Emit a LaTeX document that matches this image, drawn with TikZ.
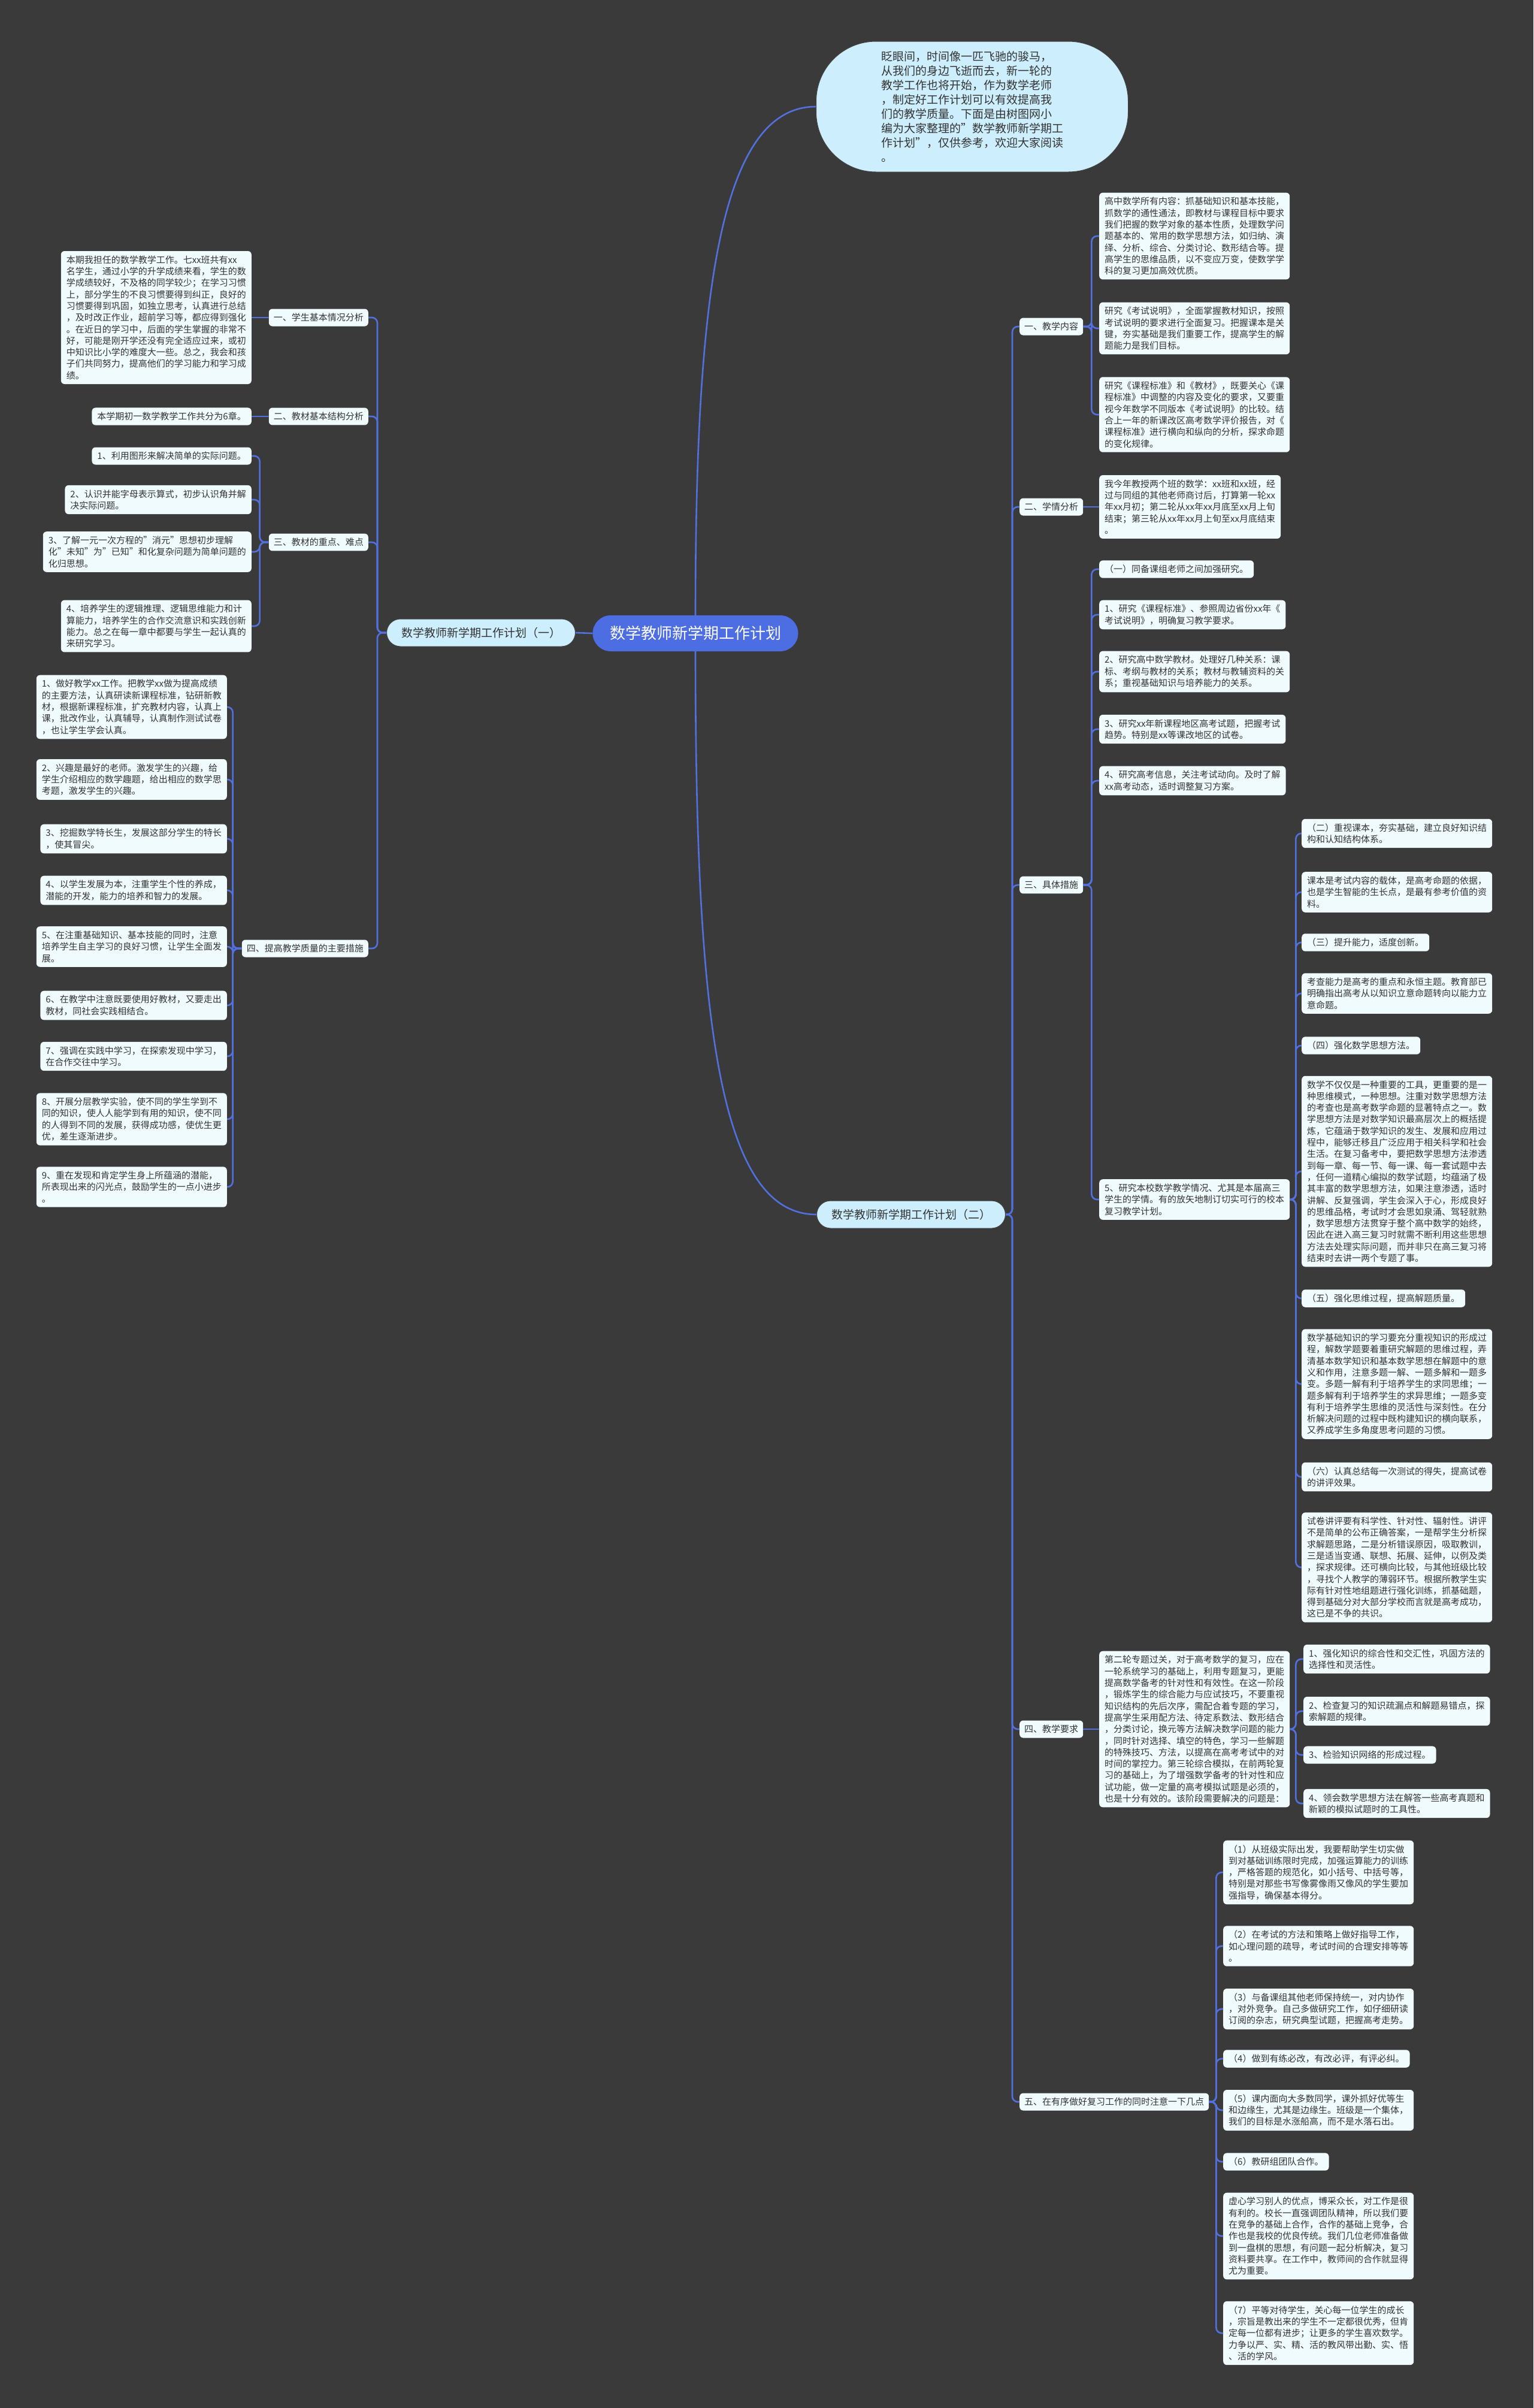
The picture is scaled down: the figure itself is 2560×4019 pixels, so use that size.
\documentclass[tikz,border=0pt]{standalone}
\usepackage{fontspec}
\setmainfont{Noto Sans CJK SC}
\usepackage{tikz}
\definecolor{bgdark}{RGB}{58,58,58}
\definecolor{linkblue}{RGB}{82,112,222}
\definecolor{rootblue}{RGB}{76,110,226}
\definecolor{planfill}{RGB}{205,238,252}
\definecolor{leaffill}{RGB}{240,251,254}
\definecolor{inktext}{RGB}{51,51,51}

\begin{document}
\begin{tikzpicture}[x=1pt, y=-1pt,
    leaf/.style={rectangle, rounded corners=6pt, fill=leaffill, text=inktext,
                 align=left, inner xsep=9pt, inner ysep=7.5pt,
                 font=\fontsize{15}{19.3}\selectfont},
    branch/.style={leaf, inner xsep=8pt},
    planbox/.style={rectangle, rounded corners=23pt, draw=black!75, line width=1pt,
                    fill=planfill, text=inktext, minimum width=315pt, minimum height=46pt,
                    font=\fontsize{19}{23}\selectfont},
    rootbox/.style={rectangle, rounded corners=30pt, fill=rootblue, text=white,
                    minimum width=343pt, minimum height=60pt,
                    font=\fontsize{26}{30}\selectfont},
    intro/.style={rectangle, rounded corners=100pt, draw=black!75, line width=1pt,
                  fill=planfill, text=inktext, align=left,
                  minimum width=521pt, minimum height=218pt,
                  font=\fontsize{19}{24}\selectfont},
    link/.style={draw=linkblue, line width=2.6pt, rounded corners=9pt}]

\useasboundingbox (0,0) rectangle (2560,4019);
\fill[bgdark] (0,0) rectangle (2560,4019);

%% ── Root and the two plans ──────────────────────────────────────────────────
\node[rootbox] (root) at (1161,1057) {数学教师新学期工作计划};

\node[intro] (preface) at (1623,178)
    {眨眼间，时间像一匹飞驰的骏马，\\从我们的身边飞逝而去，新一轮的\\教学工作也将开始，作为数学老师\\，制定好工作计划可以有效提高我\\们的教学质量。下面是由树图网小\\编为大家整理的"数学教师新学期工\\作计划"，仅供参考，欢迎大家阅读\\。};

\node[planbox] (plan1) at (803,1056) {数学教师新学期工作计划（一）};
\node[planbox] (plan2) at (1521,2027) {数学教师新学期工作计划（二）};

%% ── Plan one: branches on the left ──────────────────────────────────────────
\node[branch, anchor=east] (basics) at (615,530) {一、学生基本情况分析};
\node[branch, anchor=east] (structure) at (615,695) {二、教材基本结构分析};
\node[branch, anchor=east] (keypts) at (615,905) {三、教材的重点、难点};
\node[branch, anchor=east] (quality) at (615,1583) {四、提高教学质量的主要措施};

\node[leaf, anchor=east] (basics1) at (420,530)
    {本期我担任的数学教学工作。七xx班共有xx\\名学生，通过小学的升学成绩来看，学生的数\\学成绩较好，不及格的同学较少；在学习习惯\\上，部分学生的不良习惯要得到纠正，良好的\\习惯要得到巩固，如独立思考，认真进行总结\\，及时改正作业，超前学习等，都应得到强化\\。在近日的学习中，后面的学生掌握的非常不\\好，可能是刚开学还没有完全适应过来，或初\\中知识比小学的难度大一些。总之，我会和孩\\子们共同努力，提高他们的学习能力和学习成\\绩。};

\node[leaf, anchor=east] (structure1) at (420,695) {本学期初一数学教学工作共分为6章。};

\node[leaf, anchor=east] (keypts1) at (420,761) {1、利用图形来解决简单的实际问题。};
\node[leaf, anchor=east] (keypts2) at (420,834)
    {2、认识并能字母表示算式，初步认识角并解\\决实际问题。};
\node[leaf, anchor=east] (keypts3) at (420,921)
    {3、了解一元一次方程的"消元"思想初步理解\\化"未知"为"已知"和化复杂问题为简单问题的\\化归思想。};
\node[leaf, anchor=east] (keypts4) at (420,1045)
    {4、培养学生的逻辑推理、逻辑思维能力和计\\算能力，培养学生的合作交流意识和实践创新\\能力。总之在每一章中都要与学生一起认真的\\来研究学习。};

\node[leaf, anchor=east] (quality1) at (379,1180)
    {1、做好教学xx工作。把教学xx做为提高成绩\\的主要方法，认真研读新课程标准，钻研新教\\材，根据新课程标准，扩充教材内容，认真上\\课，批改作业，认真辅导，认真制作测试试卷\\，也让学生学会认真。};
\node[leaf, anchor=east] (quality2) at (379,1301)
    {2、兴趣是最好的老师。激发学生的兴趣，给\\学生介绍相应的数学趣题，给出相应的数学思\\考题，激发学生的兴趣。};
\node[leaf, anchor=east] (quality3) at (379,1400)
    {3、挖掘数学特长生，发展这部分学生的特长\\，使其冒尖。};
\node[leaf, anchor=east] (quality4) at (379,1486)
    {4、以学生发展为本，注重学生个性的养成，\\潜能的开发，能力的培养和智力的发展。};
\node[leaf, anchor=east] (quality5) at (379,1580)
    {5、在注重基础知识、基本技能的同时，注意\\培养学生自主学习的良好习惯，让学生全面发\\展。};
\node[leaf, anchor=east] (quality6) at (379,1678)
    {6、在教学中注意既要使用好教材，又要走出\\教材，同社会实践相结合。};
\node[leaf, anchor=east] (quality7) at (379,1763)
    {7、强调在实践中学习，在探索发现中学习，\\在合作交往中学习。};
\node[leaf, anchor=east] (quality8) at (379,1868)
    {8、开展分层教学实验，使不同的学生学到不\\同的知识，使人人能学到有用的知识，使不同\\的人得到不同的发展，获得成功感，使优生更\\优，差生逐渐进步。};
\node[leaf, anchor=east] (quality9) at (379,1981)
    {9、重在发现和肯定学生身上所蕴涵的潜能，\\所表现出来的闪光点，鼓励学生的一点小进步\\。};

%% ── Plan two: branches on the right ─────────────────────────────────────────
\node[branch, anchor=west] (content) at (1702,545) {一、教学内容};
\node[branch, anchor=west] (situation) at (1702,846) {二、学情分析};
\node[branch, anchor=west] (measures) at (1702,1477) {三、具体措施};
\node[branch, anchor=west] (demands) at (1702,2886) {四、教学要求};
\node[branch, anchor=west] (notes) at (1702,3508) {五、在有序做好复习工作的同时注意一下几点};

\node[leaf, anchor=west] (content1) at (1835,394)
    {高中数学所有内容：抓基础知识和基本技能，\\抓数学的通性通法，即教材与课程目标中要求\\我们把握的数学对象的基本性质，处理数学问\\题基本的、常用的数学思想方法，如归纳、演\\绎、分析、综合、分类讨论、数形结合等。提\\高学生的思维品质，以不变应万变，使数学学\\科的复习更加高效优质。};
\node[leaf, anchor=west] (content2) at (1835,548)
    {研究《考试说明》，全面掌握教材知识，按照\\考试说明的要求进行全面复习。把握课本是关\\键，夯实基础是我们重要工作，提高学生的解\\题能力是我们目标。};
\node[leaf, anchor=west] (content3) at (1835,692)
    {研究《课程标准》和《教材》，既要关心《课\\程标准》中调整的内容及变化的要求，又要重\\视今年数学不同版本《考试说明》的比较。结\\合上一年的新课改区高考数学评价报告，对《\\课程标准》进行横向和纵向的分析，探求命题\\的变化规律。};

\node[leaf, anchor=west] (situation1) at (1835,846)
    {我今年教授两个班的数学：xx班和xx班，经\\过与同组的其他老师商讨后，打算第一轮xx\\年xx月初；第二轮从xx年xx月底至xx月上旬\\结束；第三轮从xx年xx月上旬至xx月底结束\\。};

\node[leaf, anchor=west] (measures0) at (1835,950) {（一）同备课组老师之间加强研究。};
\node[leaf, anchor=west] (measures1) at (1835,1026)
    {1、研究《课程标准》、参照周边省份xx年《\\考试说明》，明确复习教学要求。};
\node[leaf, anchor=west] (measures2) at (1835,1121)
    {2、研究高中数学教材。处理好几种关系：课\\标、考纲与教材的关系；教材与教辅资料的关\\系；重视基础知识与培养能力的关系。};
\node[leaf, anchor=west] (measures3) at (1835,1217)
    {3、研究xx年新课程地区高考试题，把握考试\\趋势。特别是xx等课改地区的试卷。};
\node[leaf, anchor=west] (measures4) at (1835,1303)
    {4、研究高考信息，关注考试动向。及时了解\\xx高考动态，适时调整复习方案。};
\node[leaf, anchor=west] (measures5) at (1835,2002)
    {5、研究本校数学教学情况、尤其是本届高三\\学生的学情。有的放矢地制订切实可行的校本\\复习教学计划。};

%% 5、 opens a column of its own
\node[leaf, anchor=west] (school1) at (2173,1391)
    {（二）重视课本，夯实基础，建立良好知识结\\构和认知结构体系。};
\node[leaf, anchor=west] (school2) at (2173,1489)
    {课本是考试内容的载体，是高考命题的依据，\\也是学生智能的生长点，是最有参考价值的资\\料。};
\node[leaf, anchor=west] (school3) at (2173,1573) {（三）提升能力，适度创新。};
\node[leaf, anchor=west] (school4) at (2173,1658)
    {考查能力是高考的重点和永恒主题。教育部已\\明确指出高考从以知识立意命题转向以能力立\\意命题。};
\node[leaf, anchor=west] (school5) at (2173,1745) {（四）强化数学思想方法。};
\node[leaf, anchor=west] (school6) at (2173,1955)
    {数学不仅仅是一种重要的工具，更重要的是一\\种思维模式，一种思想。注重对数学思想方法\\的考查也是高考数学命题的显著特点之一。数\\学思想方法是对数学知识最高层次上的概括提\\炼，它蕴涵于数学知识的发生、发展和应用过\\程中，能够迁移且广泛应用于相关科学和社会\\生活。在复习备考中，要把数学思想方法渗透\\到每一章、每一节、每一课、每一套试题中去\\，任何一道精心编拟的数学试题，均蕴涵了极\\其丰富的数学思想方法，如果注意渗透，适时\\讲解、反复强调，学生会深入于心，形成良好\\的思维品格，考试时才会思如泉涌、驾轻就熟\\，数学思想方法贯穿于整个高中数学的始终，\\因此在进入高三复习时就需不断利用这些思想\\方法去处理实际问题，而并非只在高三复习将\\结束时去讲一两个专题了事。};
\node[leaf, anchor=west] (school7) at (2173,2167) {（五）强化思维过程，提高解题质量。};
\node[leaf, anchor=west] (school8) at (2173,2310)
    {数学基础知识的学习要充分重视知识的形成过\\程，解数学题要着重研究解题的思维过程，弄\\清基本数学知识和基本数学思想在解题中的意\\义和作用，注意多题一解、一题多解和一题多\\变。多题一解有利于培养学生的求同思维；一\\题多解有利于培养学生的求异思维；一题多变\\有利于培养学生思维的灵活性与深刻性。在分\\析解决问题的过程中既构建知识的横向联系，\\又养成学生多角度思考问题的习惯。};
\node[leaf, anchor=west] (school9) at (2173,2465)
    {（六）认真总结每一次测试的得失，提高试卷\\的讲评效果。};
\node[leaf, anchor=west] (school10) at (2173,2616)
    {试卷讲评要有科学性、针对性、辐射性。讲评\\不是简单的公布正确答案，一是帮学生分析探\\求解题思路，二是分析错误原因，吸取教训，\\三是适当变通、联想、拓展、延伸，以例及类\\，探求规律。还可横向比较，与其他班级比较\\，寻找个人教学的薄弱环节。根据所教学生实\\际有针对性地组题进行强化训练，抓基础题，\\得到基础分对大部分学校而言就是高考成功，\\这已是不争的共识。};

\node[leaf, anchor=west] (demands0) at (1835,2886)
    {第二轮专题过关，对于高考数学的复习，应在\\一轮系统学习的基础上，利用专题复习，更能\\提高数学备考的针对性和有效性。在这一阶段\\，锻炼学生的综合能力与应试技巧，不要重视\\知识结构的先后次序，需配合着专题的学习，\\提高学生采用配方法、待定系数法、数形结合\\，分类讨论，换元等方法解决数学问题的能力\\，同时针对选择、填空的特色，学习一些解题\\的特殊技巧、方法，以提高在高考考试中的对\\时间的掌控力。第三轮综合模拟，在前两轮复\\习的基础上，为了增强数学备考的针对性和应\\试功能，做一定量的高考模拟试题是必须的，\\也是十分有效的。该阶段需要解决的问题是：};
\node[leaf, anchor=west] (demands1) at (2176,2769)
    {1、强化知识的综合性和交汇性，巩固方法的\\选择性和灵活性。};
\node[leaf, anchor=west] (demands2) at (2176,2856)
    {2、检查复习的知识疏漏点和解题易错点，探\\索解题的规律。};
\node[leaf, anchor=west] (demands3) at (2176,2929) {3、检验知识网络的形成过程。};
\node[leaf, anchor=west] (demands4) at (2176,3010)
    {4、领会数学思想方法在解答一些高考真题和\\新颖的模拟试题时的工具性。};

\node[leaf, anchor=west] (notes1) at (2042,3125)
    {（1）从班级实际出发，我要帮助学生切实做\\到对基础训练限时完成，加强运算能力的训练\\，严格答题的规范化，如小括号、中括号等，\\特别是对那些书写像雾像雨又像风的学生要加\\强指导，确保基本得分。};
\node[leaf, anchor=west] (notes2) at (2042,3248)
    {（2）在考试的方法和策略上做好指导工作，\\如心理问题的疏导，考试时间的合理安排等等\\。};
\node[leaf, anchor=west] (notes3) at (2042,3353)
    {（3）与备课组其他老师保持统一，对内协作\\，对外竞争。自己多做研究工作，如仔细研读\\订阅的杂志，研究典型试题，把握高考走势。};
\node[leaf, anchor=west] (notes4) at (2042,3436) {（4）做到有练必改，有改必评，有评必纠。};
\node[leaf, anchor=west] (notes5) at (2042,3522)
    {（5）课内面向大多数同学，课外抓好优等生\\和边缘生，尤其是边缘生。班级是一个集体，\\我们的目标是水涨船高，而不是水落石出。};
\node[leaf, anchor=west] (notes6) at (2042,3608) {（6）教研组团队合作。};
\node[leaf, anchor=west] (notes7) at (2042,3732)
    {虚心学习别人的优点，博采众长，对工作是很\\有利的。校长一直强调团队精神，所以我们要\\在竞争的基础上合作，合作的基础上竞争，合\\作也是我校的优良传统。我们几位老师准备做\\到一盘棋的思想，有问题一起分析解决，复习\\资料要共享。在工作中，教师间的合作就显得\\尤为重要。};
\node[leaf, anchor=west] (notes8) at (2042,3894)
    {（7）平等对待学生，关心每一位学生的成长\\，宗旨是教出来的学生不一定都很优秀，但肯\\定每一位都有进步；让更多的学生喜欢数学。\\力争以严、实、精、活的教风带出勤、实、悟\\、活的学风。};

%% ── Connections ─────────────────────────────────────────────────────────────
\draw[link] (root.north) .. controls (1161,500) and (1200,178) .. (preface.west);
\draw[link] (root.south) .. controls (1161,1700) and (1200,2027) .. (plan2.west);
\draw[link] (root.west) -- (plan1.east);

\foreach \b in {basics, structure, keypts, quality}
    \draw[link] (plan1.west) -- ++(-15,0) |- (\b.east);
\draw[link] (basics.west) -- (basics1.east);
\draw[link] (structure.west) -- (structure1.east);
\foreach \k in {1,...,4}
    \draw[link] (keypts.west) -- ++(-15,0) |- (keypts\k.east);
\foreach \k in {1,...,9}
    \draw[link] (quality.west) -- ++(-15,0) |- (quality\k.east);

\foreach \b in {content, situation, measures, demands, notes}
    \draw[link] (plan2.east) -- ++(11,0) |- (\b.west);
\foreach \k in {1,...,3}
    \draw[link] (content.east) -- ++(14,0) |- (content\k.west);
\draw[link] (situation.east) -- (situation1.west);
\foreach \k in {0,...,5}
    \draw[link] (measures.east) -- ++(14,0) |- (measures\k.west);
\foreach \k in {1,...,10}
    \draw[link] (measures5.east) -- ++(10,0) |- (school\k.west);
\draw[link] (demands.east) -- (demands0.west);
\foreach \k in {1,...,4}
    \draw[link] (demands0.east) -- ++(10,0) |- (demands\k.west);
\foreach \k in {1,...,8}
    \draw[link] (notes.east) -- ++(12,0) |- (notes\k.west);

\end{tikzpicture}
\end{document}
